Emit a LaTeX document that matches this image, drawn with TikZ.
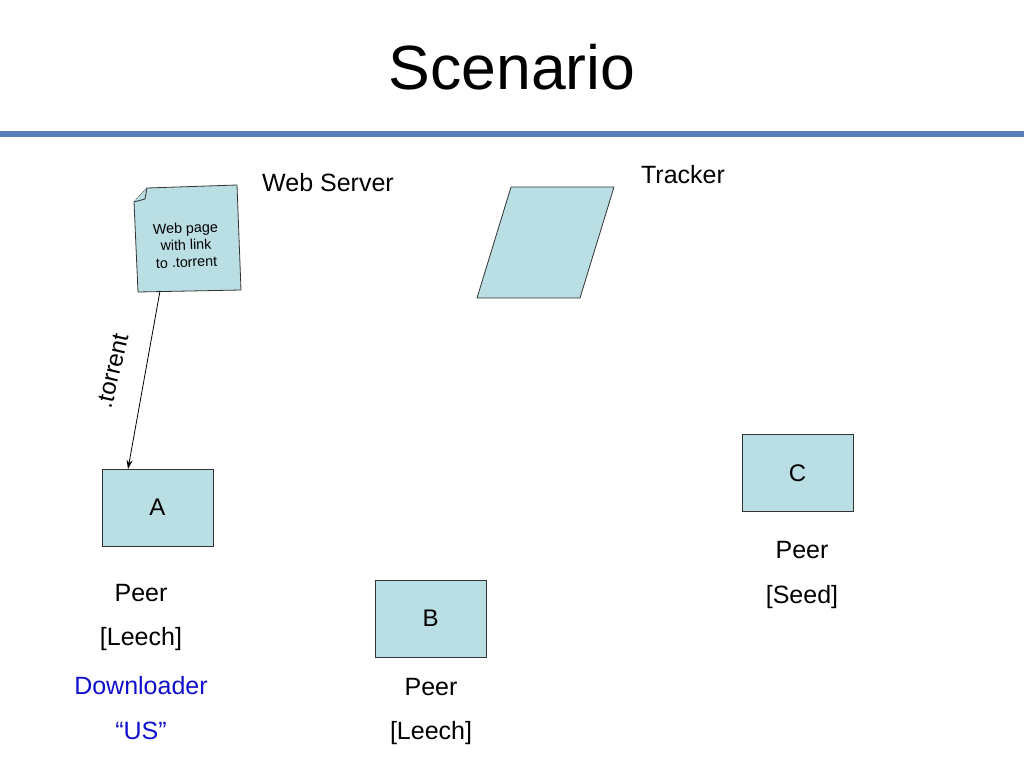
\documentclass[tikz,border=0pt]{standalone}
\usepackage{fontspec}
\setmainfont{Liberation Sans}
\usetikzlibrary{arrows.meta}
\definecolor{boxfill}{HTML}{B9DEE3}
\definecolor{rulecol}{HTML}{5A7DBB}
\definecolor{dlblue}{HTML}{1010CC}
\begin{document}
\begin{tikzpicture}[x=1pt,y=-1pt,
  peerbox/.style={draw=black!80,fill=boxfill,line width=0.8pt,minimum width=111pt,minimum height=77pt,inner sep=0pt,font=\fontsize{24}{28}\selectfont},
  lbl/.style={font=\fontsize{25}{29}\selectfont,inner sep=0pt},
  shp/.style={draw=black!80,fill=boxfill,line width=0.8pt,line join=round}]
\useasboundingbox (0,0) rectangle (1024,768);
% title
\node[font=\fontsize{62.5}{72}\selectfont,inner sep=0pt] (title) at (512,67) {Scenario};
\fill[rulecol] (0,130.5) rectangle (1024,136.5);
% web page document
\draw[shp] (147,188) -- (237,185) -- (241,290) -- (138,292) -- (134,202) -- cycle;
\draw[shp] (134,202) -- (145,199) -- (147,188);
\node[font=\fontsize{14.3}{17}\selectfont,align=center,rotate=2,inner sep=0pt] (doc) at (186,245) {Web page\\with link\\ to .torrent};
\coordinate (docbot) at (160,291);
% tracker parallelogram
\draw[shp] (511,187) -- (614,187) -- (580,298) -- (477,298) -- cycle;
\node[lbl] (web) at (328,183) {Web Server};
\node[lbl] (tracker) at (683,175) {Tracker};
% peers
\node[peerbox] (A) at (157.5,507.5) {A};
\node[peerbox] (B) at (430.5,618.5) {B};
\node[peerbox] (C) at (797.5,473) {C};
\draw[-{Stealth[length=9pt,width=6pt]},line width=0.8pt] (docbot) -- (128,469);
\node[font=\fontsize{24}{28}\selectfont,rotate=77,inner sep=0pt] (tor) at (113,371) {.torrent};
% labels
\node[lbl] (pa) at (141,593) {Peer};
\node[lbl] (la) at (141,639) {[Leech]};
\node[lbl,text=dlblue] (da) at (141,686) {Downloader};
\node[lbl,text=dlblue] (ua) at (141,731) {“US”};
\node[lbl] (pb) at (431,687) {Peer};
\node[lbl] (lb) at (431,733) {[Leech]};
\node[lbl] (pc) at (802,550) {Peer};
\node[lbl] (sc) at (802,597) {[Seed]};
\end{tikzpicture}
\end{document}
